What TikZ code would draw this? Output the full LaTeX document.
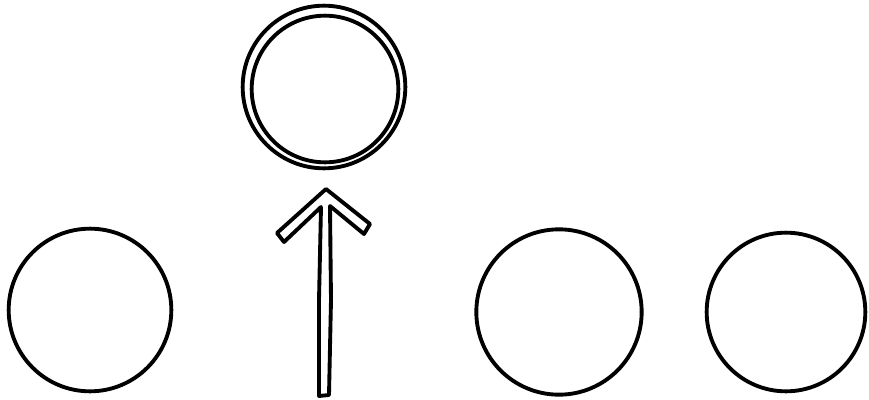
\documentclass[tikz,border=0pt]{standalone}
\usetikzlibrary{shapes.geometric}
\begin{document}
\begin{tikzpicture}[x=0.75pt,y=-0.75pt,
  ring/.style={circle,draw=black,line width=2.9pt,inner sep=0pt,minimum size=#1},
  hollowarrow/.style={draw=black,line width=2.9pt,line join=round,fill=white}]
\useasboundingbox (0,0) rectangle (869,400);
\fill[white] (0,0) rectangle (869,400);
% left circle
\node[ring=122pt] (c1) at (90,310) {};
% top double circle
\node[ring=122pt] (c2o) at (324,87) {};
\node[ring=110pt] (c2i) at (325,89) {};
% right circles
\node[ring=124pt] (c3) at (559,312) {};
\node[ring=119pt] (c4) at (786,312) {};
% hollow arrow
\coordinate (tip) at (326,189);
\draw[hollowarrow] (tip) -- (370,224) -- (364,234) -- (330,206)
  -- (331,300) -- (329,395) -- (319,396) -- (319,300) -- (321,207)
  -- (284,242) -- (277,233) -- cycle;
\end{tikzpicture}
\end{document}
